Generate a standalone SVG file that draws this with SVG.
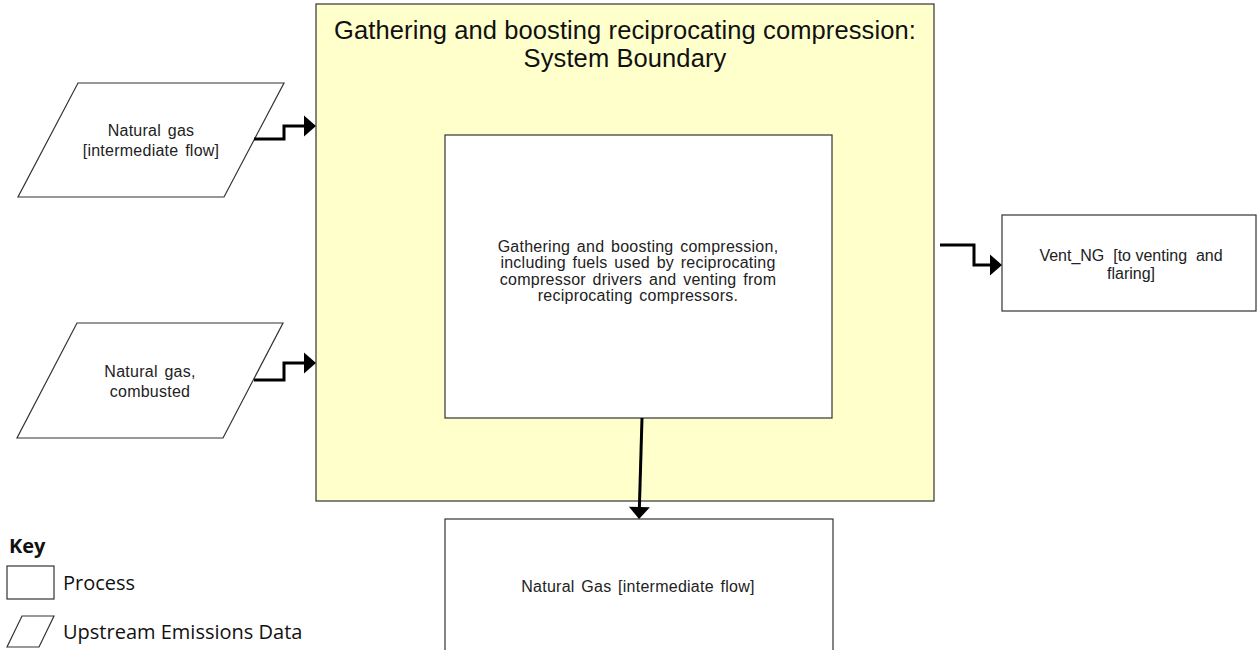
<svg xmlns="http://www.w3.org/2000/svg" width="1257" height="650" viewBox="0 0 1257 650">
<style>
  .box { fill: #ffffff; stroke: #333333; stroke-width: 1.2; }
  .para { fill: #ffffff; stroke: #333333; stroke-width: 1.2; }
  .t { font-family: "Liberation Sans", Arial, sans-serif; font-size: 16px; fill: #222222; text-anchor: middle; letter-spacing: 0.25px; word-spacing: 2px; }
  .tv { letter-spacing: 0px; word-spacing: 0px; }
  .title { font-family: "Liberation Sans", Arial, sans-serif; font-size: 25.5px; fill: #111111; text-anchor: middle; letter-spacing: 0.1px; }
  .key { font-family: "Open Sans", "Liberation Sans", sans-serif; font-size: 20px; fill: #111111; }
  .conn { fill: none; stroke: #000000; stroke-width: 3; }
</style>
<defs>
  <marker id="ah" markerUnits="userSpaceOnUse" markerWidth="13" markerHeight="21" refX="0" refY="10.5" orient="auto" overflow="visible">
    <path d="M0,0 L12,10.5 L0,21 Z" fill="#000000"/>
  </marker>
</defs>
<rect width="1257" height="650" fill="#ffffff"/>

<g id="boundary">
  <rect x="316" y="4" width="618" height="497" fill="#ffffcc" stroke="#333333" stroke-width="1.2"/>
  <text class="title" x="625" y="39">Gathering and boosting reciprocating compression:</text>
  <text class="title" x="625" y="67">System Boundary</text>
</g>

<g id="process-main">
  <rect class="box" x="445" y="135" width="387" height="283"/>
  <text class="t" x="638" y="252">Gathering and boosting compression,</text>
  <text class="t" x="638" y="268">including fuels used by reciprocating</text>
  <text class="t" x="638" y="285">compressor drivers and venting from</text>
  <text class="t" x="638" y="301">reciprocating compressors.</text>
</g>

<g id="input-ng-intermediate">
  <polygon class="para" points="78,83 284,83 224,197 18,197"/>
  <text class="t" x="151" y="136">Natural gas</text>
  <text class="t" x="151" y="156">[intermediate flow]</text>
</g>

<g id="input-ng-combusted">
  <polygon class="para" points="77,323 283,323 223,438 17,438"/>
  <text class="t" x="150" y="377">Natural gas,</text>
  <text class="t" x="150" y="397">combusted</text>
</g>

<g id="output-vent">
  <rect class="box" x="1002" y="215" width="254" height="96"/>
  <text class="t tv" x="1131" y="261" xml:space="preserve">Vent_NG  [to venting  and</text>
  <text class="t tv" x="1131" y="279">flaring]</text>
</g>

<g id="output-ng">
  <rect class="box" x="445" y="519" width="388" height="140"/>
  <text class="t" x="638" y="592">Natural Gas [intermediate flow]</text>
</g>

<g id="connectors">
  <path class="conn" d="M254,139 H284 V126 H304" marker-end="url(#ah)"/>
  <path class="conn" d="M254,380 H284 V363 H304" marker-end="url(#ah)"/>
  <path class="conn" d="M940,245 H974 V265 H990" marker-end="url(#ah)"/>
  <path class="conn" d="M642,418 L639.4,507" marker-end="url(#ah)"/>
</g>

<g id="key">
  <text class="key" x="9" y="553" font-weight="bold" font-size="18">Key</text>
  <rect x="7" y="566" width="47" height="33" fill="#ffffff" stroke="#333333" stroke-width="1.2"/>
  <text class="key" x="63" y="590">Process</text>
  <polygon points="22,616 54,616 39,647 7,647" fill="#ffffff" stroke="#333333" stroke-width="1.2"/>
  <text class="key" x="63" y="639">Upstream Emissions Data</text>
</g>
</svg>
